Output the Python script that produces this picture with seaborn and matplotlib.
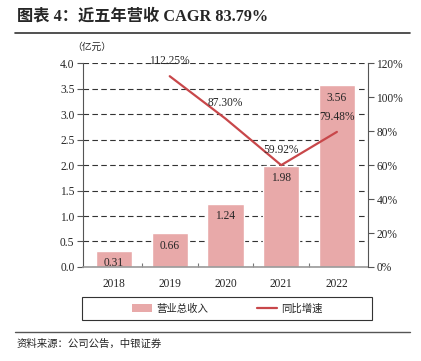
import matplotlib
matplotlib.use("Agg")
import matplotlib.pyplot as plt
import seaborn as sns
import pandas as pd
from matplotlib.patches import Patch, Rectangle
from matplotlib.lines import Line2D

# 数据
years = ["2018", "2019", "2020", "2021", "2022"]
revenue = [0.31, 0.66, 1.24, 1.98, 3.56]
growth_years = ["2019", "2020", "2021", "2022"]
growth = [112.25, 87.30, 59.92, 79.48]

bar_color = "#E8A9A9"
line_color = "#C8474A"

sns.set_style("white")
plt.rcParams["font.family"] = ["Liberation Serif", "Noto Sans CJK SC"]

df = pd.DataFrame({"year": years, "revenue": revenue})

fig = plt.figure(figsize=(4.21, 3.61), dpi=100)
ax = fig.add_axes([0.197, 0.2604, 0.677, 0.565])

sns.barplot(x="year", y="revenue", data=df, color=bar_color, width=0.65,
            saturation=1, ax=ax, zorder=2)
ax.set_ylim(0, 4.0)
ax.set_yticks([0, 0.5, 1.0, 1.5, 2.0, 2.5, 3.0, 3.5, 4.0])
ax.set_yticklabels([f"{v:.1f}" for v in ax.get_yticks()], fontsize=8.3)
ax.set_xlabel("")
ax.set_ylabel("")
ax.set_xticks([i + 0.5 for i in range(len(years) - 1)], minor=True)
ax.tick_params(axis="x", which="major", length=0, labelsize=8.3, pad=8)
ax.tick_params(axis="x", which="minor", length=3, width=0.8, color="#777777",
               direction="in", bottom=True)
ax.tick_params(axis="y", length=4, width=0.8, color="#555555", direction="out", pad=2)
ax.yaxis.grid(True, linestyle=(0, (5, 3)), color="#333333", linewidth=0.8, zorder=0)
ax.set_axisbelow(True)
for s in ["top", "right"]:
    ax.spines[s].set_visible(False)
ax.spines["left"].set_color("#555555")
ax.spines["bottom"].set_color("#999999")
ax.spines["left"].set_linewidth(0.8)
ax.spines["bottom"].set_linewidth(1.2)

for i, v in enumerate(revenue):
    ax.text(i, v - 0.24, f"{v:.2f}", ha="center", va="center", fontsize=8.3, zorder=5)

ax2 = ax.twinx()
gx = [years.index(y) for y in growth_years]
sns.lineplot(x=gx, y=growth, color=line_color, linewidth=1.6, ax=ax2, zorder=4)
ax2.set_ylim(0, 120)
ax2.set_yticks(range(0, 121, 20))
ax2.set_yticklabels([f"{v}%" for v in range(0, 121, 20)], fontsize=8.3)
ax2.tick_params(axis="y", length=4, width=0.8, color="#555555", direction="out", pad=2)
for s in ["top", "left", "bottom"]:
    ax2.spines[s].set_visible(False)
ax2.spines["right"].set_color("#555555")
ax2.spines["right"].set_linewidth(0.8)
ax2.set_xlim(ax.get_xlim())

for x, v in zip(gx, growth):
    ax2.text(x, v + 9, f"{v:.2f}%", ha="center", va="center", fontsize=8.3, zorder=6)

fig.text(0.172, 0.87, "（亿元）", fontsize=7, ha="left", va="center",
         family=["Noto Sans CJK SC"])

# 图例：无边框的图例 + 手动画的方框
handles = [Patch(facecolor=bar_color, edgecolor="none"),
           Line2D([0], [0], color=line_color, linewidth=1.6)]
leg = fig.legend(handles, ["营业总收入", "同比增速"], loc="center",
                 bbox_to_anchor=(0.54, 0.1455), ncol=2, frameon=False,
                 handlelength=1.9, handletextpad=0.4, columnspacing=4.7,
                 prop={"family": ["Noto Sans CJK SC"], "size": 7.5})
fig.add_artist(Rectangle((0.195, 0.114), 0.689, 0.063, transform=fig.transFigure,
                         fill=False, edgecolor="#333333", linewidth=0.8))

fig.text(0.04, 0.953, "图表 4：近五年营收 CAGR 83.79%", fontsize=11.7, fontweight="bold",
         ha="left", va="center", family=["Liberation Serif", "Noto Sans CJK SC"])
fig.add_artist(Line2D([0.036, 0.973], [0.909, 0.909], color="#333333", linewidth=1.2))
fig.add_artist(Line2D([0.036, 0.973], [0.081, 0.081], color="#555555", linewidth=1.0))
fig.text(0.04, 0.048, "资料来源：公司公告，中银证券", fontsize=7.5, style="italic",
         ha="left", va="center", family=["Noto Sans CJK SC"])

fig.savefig("out.png", dpi=100)
